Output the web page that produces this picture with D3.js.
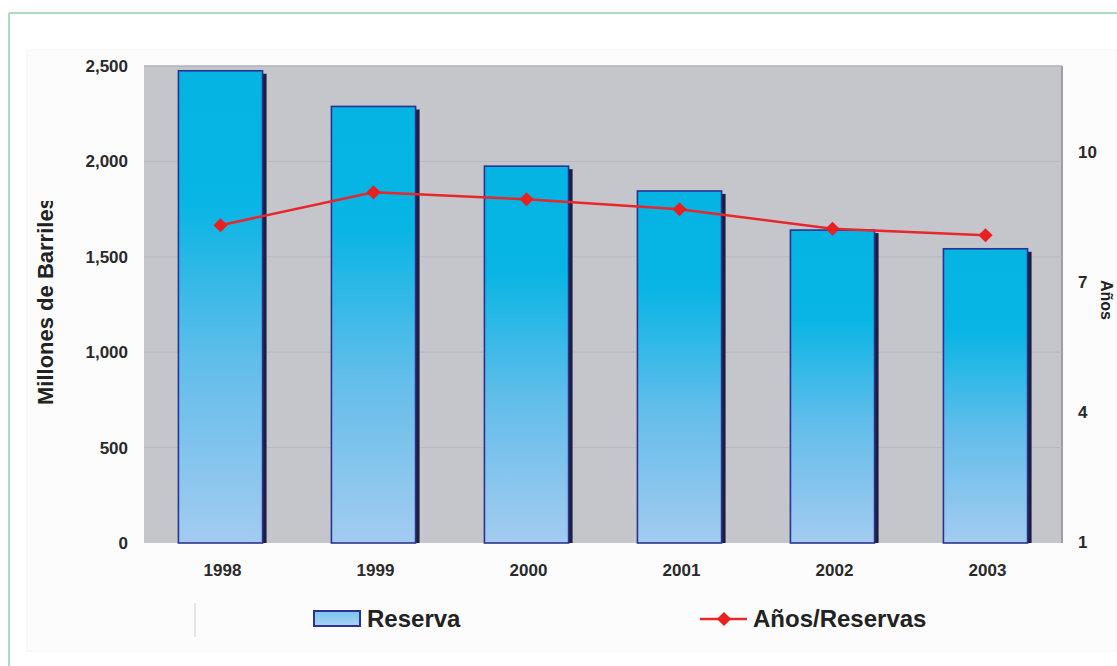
<!DOCTYPE html>
<html>
<head>
<meta charset="utf-8">
<script src="https://cdn.jsdelivr.net/npm/d3@7"></script>
<style>
  html, body { margin: 0; padding: 0; background: #ffffff; }
  svg { display: block; font-family: "Liberation Sans", Arial, Helvetica, sans-serif; }
</style>
</head>
<body>
<svg id="chart" width="1117" height="666"></svg>
<script>
// Reservas de petróleo (millones de barriles) y relación años/reservas
const years = ["1998", "1999", "2000", "2001", "2002", "2003"];
const reserva = [2475, 2288, 1975, 1845, 1640, 1542];
const aniosReservas = [8.32, 9.08, 8.92, 8.69, 8.24, 8.09];
const leftTicks = [0, 500, 1000, 1500, 2000, 2500];
const rightTicks = [1, 4, 7, 10];

const svg = d3.select("#chart");
const plot = { left: 144, right: 1062, top: 66, bottom: 543 };

// frame and soft panel
svg.append("rect").attr("x", 27).attr("y", 50).attr("width", 1090).attr("height", 601)
  .attr("fill", "#fcfcfc").attr("stroke", "#f5f5f5");
svg.append("line").attr("x1", 9).attr("y1", 13).attr("x2", 1117).attr("y2", 13)
  .attr("stroke", "#acdcbc").attr("stroke-width", 2);
svg.append("line").attr("x1", 9).attr("y1", 13).attr("x2", 9).attr("y2", 666)
  .attr("stroke", "#acdcbc").attr("stroke-width", 2);

const x = d3.scaleBand().domain(years).range([plot.left, plot.right])
  .paddingInner(0.45).paddingOuter(0.225);
const y = d3.scaleLinear().domain([0, 2500]).range([plot.bottom, plot.top]);
const y2 = d3.scaleLinear().domain([1, 12]).range([plot.bottom - 1, plot.top]);

// gradient for bars
const defs = svg.append("defs");
const grad = defs.append("linearGradient").attr("id", "barGrad")
  .attr("x1", 0).attr("y1", 0).attr("x2", 0).attr("y2", 1);
grad.append("stop").attr("offset", "0%").attr("stop-color", "#04b4e2");
grad.append("stop").attr("offset", "28%").attr("stop-color", "#08b5e4");
grad.append("stop").attr("offset", "62%").attr("stop-color", "#62bdea");
grad.append("stop").attr("offset", "100%").attr("stop-color", "#a3cbf0");
const lgGrad = defs.append("linearGradient").attr("id", "legGrad")
  .attr("x1", 0).attr("y1", 0).attr("x2", 0).attr("y2", 1);
lgGrad.append("stop").attr("offset", "0%").attr("stop-color", "#7cc4f0");
lgGrad.append("stop").attr("offset", "100%").attr("stop-color", "#a8d2f4");
defs.append("clipPath").attr("id", "titleClip").append("rect")
  .attr("x", 0).attr("y", 201).attr("width", 120).attr("height", 300);

// plot background
svg.append("rect").attr("x", plot.left).attr("y", plot.top)
  .attr("width", plot.right - plot.left).attr("height", plot.bottom - plot.top)
  .attr("fill", "#c4c6cc");
svg.append("line").attr("x1", plot.right).attr("x2", plot.right)
  .attr("y1", plot.top).attr("y2", plot.bottom).attr("stroke", "#9c9ea6").attr("stroke-width", 2);
svg.append("line").attr("x1", plot.left).attr("x2", plot.right)
  .attr("y1", plot.top).attr("y2", plot.top).attr("stroke", "#b0b2b8").attr("stroke-width", 1.5);

// grid lines
svg.append("g").selectAll("line").data(leftTicks.slice(1, -1)).join("line")
  .attr("x1", plot.left).attr("x2", plot.right)
  .attr("y1", d => y(d)).attr("y2", d => y(d))
  .attr("stroke", "#b7b9bf").attr("stroke-width", 1);

// bars with dark right-side shadow
const bars = svg.append("g");
bars.selectAll("rect.shadow").data(years).join("rect").attr("class", "shadow")
  .attr("x", d => x(d) + x.bandwidth() - 1)
  .attr("y", (d, i) => y(reserva[i]) + 3)
  .attr("width", 5)
  .attr("height", (d, i) => plot.bottom - y(reserva[i]) - 3)
  .attr("fill", "#1d1d3e");
bars.selectAll("rect.bar").data(years).join("rect").attr("class", "bar")
  .attr("x", d => x(d))
  .attr("y", (d, i) => y(reserva[i]))
  .attr("width", x.bandwidth())
  .attr("height", (d, i) => plot.bottom - y(reserva[i]))
  .attr("fill", "url(#barGrad)")
  .attr("stroke", "#2c3290").attr("stroke-width", 1.6);

// line series on the secondary axis
const cx = d => x(d) + x.bandwidth() / 2;
const marker = d3.symbol(d3.symbolSquare, 100);
svg.append("path")
  .datum(years)
  .attr("d", d3.line().x(cx).y((d, i) => y2(aniosReservas[i])))
  .attr("fill", "none").attr("stroke", "#e8262b").attr("stroke-width", 2.5);
svg.append("g").selectAll("path").data(years).join("path")
  .attr("d", marker)
  .attr("transform", (d, i) => `translate(${cx(d)},${y2(aniosReservas[i])}) rotate(45)`)
  .attr("fill", "#e82020");

// left axis
const fmt = d3.format(",");
const leftAxis = svg.append("g").attr("transform", `translate(${plot.left},0)`)
  .call(d3.axisLeft(y).tickValues(leftTicks).tickFormat(fmt).tickSize(0).tickPadding(16));
leftAxis.select(".domain").remove();
leftAxis.selectAll("text").attr("font-size", 17).attr("font-weight", "bold")
  .attr("fill", "#2a2a2a").attr("font-family", "Liberation Sans, Arial, sans-serif");

// right axis
const rightAxis = svg.append("g").attr("transform", `translate(${plot.right},0)`)
  .call(d3.axisRight(y2).tickValues(rightTicks).tickFormat(d3.format("d")).tickSize(0).tickPadding(16));
rightAxis.select(".domain").remove();
rightAxis.selectAll("text").attr("font-size", 17).attr("font-weight", "bold")
  .attr("fill", "#2a2a2a").attr("font-family", "Liberation Sans, Arial, sans-serif");

// category axis
const bottomAxis = svg.append("g").attr("transform", `translate(0,${plot.bottom})`)
  .call(d3.axisBottom(x).tickSize(0).tickPadding(21));
bottomAxis.select(".domain").remove();
bottomAxis.selectAll("text").attr("font-size", 17).attr("font-weight", "bold")
  .attr("fill", "#2a2a2a").attr("font-family", "Liberation Sans, Arial, sans-serif")
  .attr("dx", 2);

// axis titles
svg.append("g").attr("clip-path", "url(#titleClip)")
  .append("text")
  .attr("transform", "translate(53,405) rotate(-90)")
  .attr("font-size", 22).attr("font-weight", "bold").attr("fill", "#222")
  .text("Millones de Barriles");
svg.append("text")
  .attr("transform", "translate(1101,280) rotate(90)")
  .attr("font-size", 16).attr("font-weight", "bold").attr("fill", "#222")
  .text("Años");

// legend
const leg = svg.append("g");
leg.append("line").attr("x1", 195).attr("x2", 195).attr("y1", 603).attr("y2", 637)
  .attr("stroke", "#e4e4e4").attr("stroke-width", 2);
leg.append("rect").attr("x", 314).attr("y", 611).attr("width", 46).attr("height", 15)
  .attr("fill", "url(#legGrad)").attr("stroke", "#2c3290").attr("stroke-width", 2);
leg.append("text").attr("x", 367).attr("y", 627)
  .attr("font-size", 24).attr("font-weight", "bold").attr("fill", "#222").text("Reserva");
leg.append("line").attr("x1", 700).attr("x2", 747).attr("y1", 619).attr("y2", 619)
  .attr("stroke", "#e8262b").attr("stroke-width", 2.5);
leg.append("path").attr("d", marker)
  .attr("transform", "translate(724,619) rotate(45)").attr("fill", "#e82020");
leg.append("text").attr("x", 753).attr("y", 627)
  .attr("font-size", 24).attr("font-weight", "bold").attr("fill", "#222").text("Años/Reservas");
</script>
</body>
</html>
